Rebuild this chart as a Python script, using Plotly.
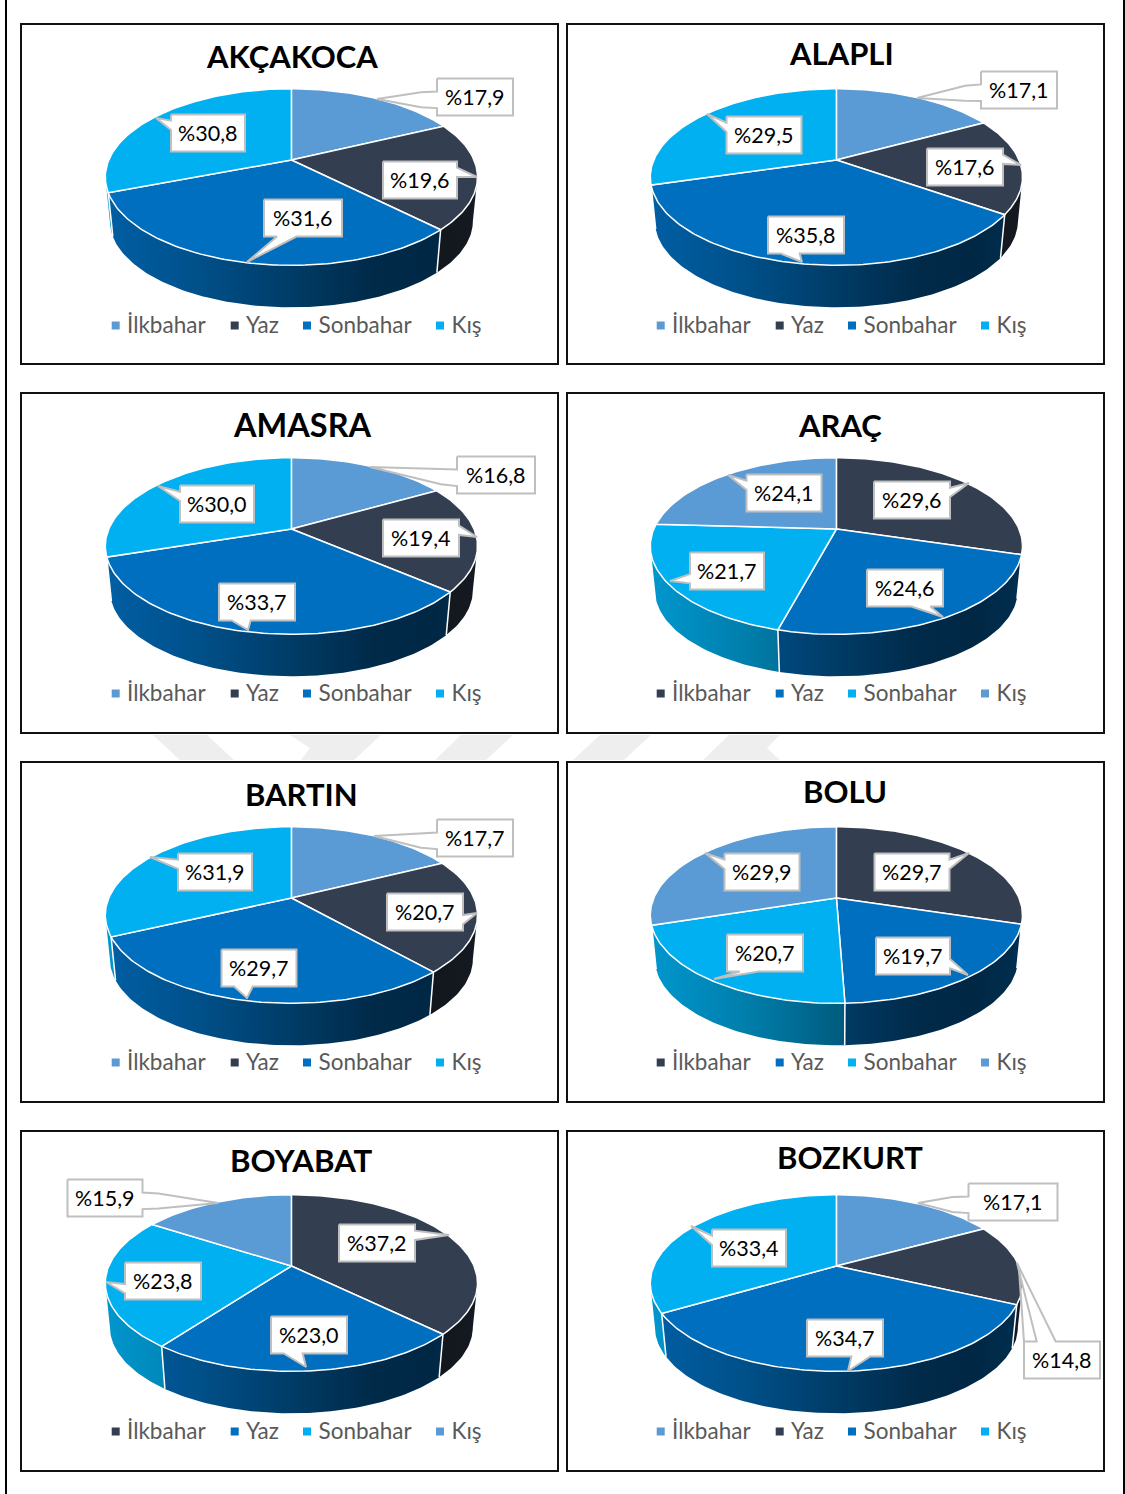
import math
import plotly.graph_objects as go

# ---------- data ----------
TITLES = ["AKÇAKOCA", "ALAPLI", "AMASRA", "ARAÇ", "BARTIN", "BOLU", "BOYABAT", "BOZKURT"]
SEASONS = ["İlkbahar", "Yaz", "Sonbahar", "Kış"]
AKCAKOCA = [17.9, 19.6, 31.6, 30.8]
ALAPLI = [17.1, 17.6, 35.8, 29.5]
AMASRA = [16.8, 19.4, 33.7, 30.0]
ARAC = [29.6, 24.6, 21.7, 24.1]
BARTIN = [17.7, 20.7, 29.7, 31.9]
BOLU = [29.7, 19.7, 20.7, 29.9]
BOYABAT = [37.2, 23.0, 23.8, 15.9]
BOZKURT = [17.1, 14.8, 34.7, 33.4]
VALUES = [AKCAKOCA, ALAPLI, AMASRA, ARAC, BARTIN, BOLU, BOYABAT, BOZKURT]

# ---------- styles ----------
LIGHT, DARK, BLUE, CYAN = "#5B9BD5", "#333F50", "#006FBF", "#00B0F0"
PALETTE_A = [LIGHT, DARK, BLUE, CYAN]
PALETTE_B = [DARK, BLUE, CYAN, LIGHT]
PALETTES = [PALETTE_A, PALETTE_A, PALETTE_A, PALETTE_B, PALETTE_A, PALETTE_B, PALETTE_B, PALETTE_A]
FONT = "Lato"
W, H = 1125, 1494

# ---------- layout (page pixels) ----------
COL_X = [(22, 557), (568, 1102.5)]
ROW_Y = [(25, 363), (394, 732), (763, 1101), (1132, 1469.5)]
PIE_CX = [291.4, 836.4]
PIE_CY = [160, 529, 898, 1266]
LEGEND_Y = [325.5, 693.5, 1062.5, 1431.5]
LEGEND_MARK_X = [115.7, 234.7, 307, 440]     # left column; the right column adds COL_SHIFT
LEGEND_TEXT_X = [127, 246, 318.5, 451.5]
COL_SHIFT = [0, 545]
TITLE_POS = [(292, 56), (841, 53), (302, 425), (840, 425), (301, 794), (845, 791), (301, 1160), (850, 1157)]
TITLE_SIZE = [31, 31, 32.5, 31, 31, 31, 31.2, 31]
# label box: centre x, centre y, width; tip of the pointer
BOXES = [
    [(475, 97, 76), (420, 180, 74), (303, 218, 78), (208, 133, 74)],
    [(1019, 90, 76), (965, 167, 76), (806, 235, 76), (764, 135, 75)],
    [(496, 475, 78), (421, 538, 76), (257, 602, 76), (217, 504, 74)],
    [(912, 500, 76), (905, 588, 76), (727, 571, 74), (784, 493, 75)],
    [(475, 838, 76), (425, 912, 76), (259, 968, 75), (215, 872, 74)],
    [(912, 872, 75), (913, 956, 74), (765, 953, 76), (762, 872, 75)],
    [(377, 1243, 76), (309, 1335, 76), (163, 1281, 76), (105, 1198, 75)],
    [(1013, 1202, 89), (1062, 1360, 76), (845, 1338, 76), (749, 1248, 74)],
]
TIPS = [
    [(377, 99), (477, 177), (247, 262), (156, 118)],
    [(917, 98), (1021, 165), (802, 262), (707, 114)],
    [(370, 467), (477, 537), (248, 630), (158, 486)],
    [(969, 483), (943, 617), (670, 581), (728, 475)],
    [(374, 836), (477, 913), (247, 998), (150, 857)],
    [(969, 853), (968, 975), (714, 979), (705, 853)],
    [(449, 1235), (306, 1367), (106, 1282), (218, 1203)],
    [(918, 1203), (1017, 1263), (848, 1371), (691, 1226)],
]
BOX_H = 37
EXTRA_LEADERS = {7: ((1019, 1269), (1024, 1342))}   # second leader line of the %14,8 callout

# ---------- pie geometry: a tilted disc in perspective ----------
A, B, K = 182.6, 85.0, 0.193     # horizontal scale, vertical scale, perspective
DEPTH, SHRINK = 44.6, 0.975      # thickness and bottom-face scale
FRONT_LO = math.pi - math.acos(K)    # silhouette limits of the side wall
FRONT_HI = math.pi + math.acos(K)
SIDE_STOPS = [(0.0, 0.86), (0.25, 0.72), (0.55, 0.5), (0.72, 0.38), (0.88, 0.36), (1.0, 0.42)]


def project(theta, cx, cy, scale=1.0, drop=0.0):
    u, v = math.sin(theta), math.cos(theta)
    d = 1 + K * v
    return cx + scale * A * u / d, cy - scale * B * v / d + drop


def shade(color, f):
    r, g, b = (int(color[i:i + 2], 16) for i in (1, 3, 5))
    return f"rgb({r * f:.0f},{g * f:.0f},{b * f:.0f})"


def arc(t1, t2):
    n = max(2, int(abs(t2 - t1) / 0.02))
    return [t1 + (t2 - t1) * i / n for i in range(n + 1)]


def callout(box, tip):
    cx, cy, w = box
    h = BOX_H
    l, r, t, b = cx - w / 2, cx + w / 2, cy - h / 2, cy + h / 2
    tx, ty = tip
    dx, dy = tx - cx, ty - cy
    horiz = abs(dx) / w > abs(dy) / h
    far = horiz and (abs(dx) - w / 2) > 50
    if horiz:
        f1, f2 = (0.35, 0.8) if far else ((2 / 12, 5 / 12) if dy < 0 else (7 / 12, 10 / 12))
        y1, y2 = t + f1 * h, t + f2 * h
    else:
        f1, f2 = (2 / 12, 5 / 12) if dx < 0 else (7 / 12, 10 / 12)
        x1, x2 = l + f1 * w, l + f2 * w

    def side(edge, sign):
        # the wedge leaving a vertical edge; long leaders bend once on the way to the tip
        if far:
            m1 = (edge + sign * 16, y1 + 0.1 * (ty - y1))
            m2 = (edge + sign * 16, y2 + 0.1 * (ty - y2))
            return [(edge, y1), m1, (tx, ty), m2, (edge, y2)]
        return [(edge, y1), (tx, ty), (edge, y2)]

    pts = [(l, t)]
    if not horiz and dy < 0:
        pts += [(x1, t), (tx, ty), (x2, t)]
    pts.append((r, t))
    if horiz and dx > 0:
        pts += side(r, 1)
    pts.append((r, b))
    if not horiz and dy > 0:
        pts += [(x2, b), (tx, ty), (x1, b)]
    pts.append((l, b))
    if horiz and dx < 0:
        pts += side(l, -1)[::-1]
    pts.append((l, t))
    return [p[0] for p in pts], [p[1] for p in pts]


fig = go.Figure()
layout = {}
annotations = []

for i, (title, values, palette) in enumerate(zip(TITLES, VALUES, PALETTES)):
    col, row = i % 2, i // 2
    suffix = "" if i == 0 else str(i + 1)
    xa, ya = f"x{suffix}", f"y{suffix}"
    x0, x1 = COL_X[col]
    y0, y1 = ROW_Y[row]
    common = dict(showgrid=False, zeroline=False, showticklabels=False, ticks="", showline=True,
                  mirror=True, linecolor="#111111", linewidth=2, fixedrange=True)
    layout[f"xaxis{suffix}"] = dict(domain=[x0 / W, x1 / W], range=[x0, x1], anchor=ya, **common)
    layout[f"yaxis{suffix}"] = dict(domain=[1 - y1 / H, 1 - y0 / H], range=[y1, y0], anchor=xa, **common)

    cx, cy = PIE_CX[col], PIE_CY[row]
    total = sum(values)
    angles = [0.0]
    for v in values:
        angles.append(angles[-1] + v / total * 2 * math.pi)

    # side wall
    for s, color in enumerate(palette):
        t1, t2 = max(angles[s], FRONT_LO), min(angles[s + 1], FRONT_HI)
        if t2 <= t1:
            continue
        top = [project(t, cx, cy) for t in arc(t1, t2)]
        bottom = [project(t, cx, cy, SHRINK, DEPTH) for t in arc(t2, t1)]
        pts = top + bottom + top[:1]
        fig.add_trace(go.Scatter(
            x=[p[0] for p in pts], y=[p[1] for p in pts], xaxis=xa, yaxis=ya, mode="lines",
            line=dict(width=0), fill="toself", hoverinfo="skip", showlegend=False,
            fillgradient=dict(type="horizontal", start=cx - A - 4, stop=cx + A + 4,
                              colorscale=[[p, shade(color, f)] for p, f in SIDE_STOPS])))
    # white seams between the side-wall pieces
    for a in angles[1:-1]:
        if FRONT_LO < a < FRONT_HI:
            p, q = project(a, cx, cy), project(a, cx, cy, SHRINK, DEPTH)
            fig.add_trace(go.Scatter(x=[p[0], q[0]], y=[p[1], q[1]], xaxis=xa, yaxis=ya, mode="lines",
                                     line=dict(color="white", width=1.5), hoverinfo="skip", showlegend=False))

    # top face
    for s, color in enumerate(palette):
        pts = [(cx, cy)] + [project(t, cx, cy) for t in arc(angles[s], angles[s + 1])] + [(cx, cy)]
        fig.add_trace(go.Scatter(
            x=[p[0] for p in pts], y=[p[1] for p in pts], xaxis=xa, yaxis=ya, mode="lines",
            line=dict(color="white", width=1.5), fill="toself", fillcolor=color,
            hoverinfo="skip", showlegend=False, name=SEASONS[s]))

    # callouts
    if i in EXTRA_LEADERS:
        p, q = EXTRA_LEADERS[i]
        fig.add_trace(go.Scatter(x=[p[0], q[0]], y=[p[1], q[1]], xaxis=xa, yaxis=ya, mode="lines",
                                 line=dict(color="#BFBFBF", width=2), hoverinfo="skip", showlegend=False))
    for s, v in enumerate(values):
        bx, by = callout(BOXES[i][s], TIPS[i][s])
        fig.add_trace(go.Scatter(
            x=bx, y=by, xaxis=xa, yaxis=ya, mode="lines", line=dict(color="#BFBFBF", width=2),
            fill="toself", fillcolor="white", hoverinfo="skip", showlegend=False))
        annotations.append(dict(
            x=BOXES[i][s][0], y=BOXES[i][s][1], xref=xa, yref=ya, showarrow=False,
            text=f"%{v:.1f}".replace(".", ","), font=dict(family=FONT, size=21.5, color="black")))

    annotations.append(dict(
        x=TITLE_POS[i][0], y=TITLE_POS[i][1], xref=xa, yref=ya, showarrow=False, text=f"<b>{title}</b>",
        font=dict(family=FONT, size=TITLE_SIZE[i], color="black")))

    # legend row: swatch and name
    for s, color in enumerate(palette):
        fig.add_trace(go.Scatter(
            x=[LEGEND_MARK_X[s] + COL_SHIFT[col]], y=[LEGEND_Y[row]], xaxis=xa, yaxis=ya,
            mode="markers", name=SEASONS[s],
            marker=dict(symbol="square", size=8, color=color), showlegend=False, hoverinfo="skip"))
        fig.add_trace(go.Scatter(
            x=[LEGEND_TEXT_X[s] + COL_SHIFT[col]], y=[LEGEND_Y[row] + 1.5], xaxis=xa, yaxis=ya,
            mode="text", name=SEASONS[s], text=[SEASONS[s]], textposition="middle right",
            textfont=dict(family=FONT, size=22.5, color="#595959"), showlegend=False, hoverinfo="skip"))

# page furniture: page frame lines and the faint watermark between panels
shapes = [
    dict(type="line", xref="paper", yref="paper", x0=6 / W, x1=6 / W, y0=0, y1=1, line=dict(color="black", width=2), layer="below"),
    dict(type="line", xref="paper", yref="paper", x0=1124 / W, x1=1124 / W, y0=0, y1=1, line=dict(color="black", width=2), layer="below"),
]
WATERMARK = [
    [(153, 735), (207, 735), (234, 760), (180, 760)],
    [(290, 735), (381, 735), (354, 760), (301, 760), (310, 748)],
    [(461, 735), (513, 735), (486, 760), (435, 760)],
    [(600, 735), (651, 735), (624, 760), (573, 760)],
    [(729, 735), (780, 735), (767, 748), (780, 760), (703, 760)],
]
for poly in WATERMARK:
    path = "M " + " L ".join(f"{x / W:.5f},{1 - y / H:.5f}" for x, y in poly) + " Z"
    shapes.append(dict(type="path", xref="paper", yref="paper", path=path, fillcolor="#EEEEEE", line=dict(width=0), layer="below"))

fig.update_layout(width=W, height=H, autosize=False, margin=dict(l=0, r=0, t=0, b=0),
                  paper_bgcolor="white", plot_bgcolor="white", annotations=annotations, shapes=shapes,
                  hovermode=False, showlegend=False, **layout)
fig.write_html("out.html", config={"displayModeBar": False},
               post_script="document.body.style.margin='0';document.body.style.overflow='hidden';")
